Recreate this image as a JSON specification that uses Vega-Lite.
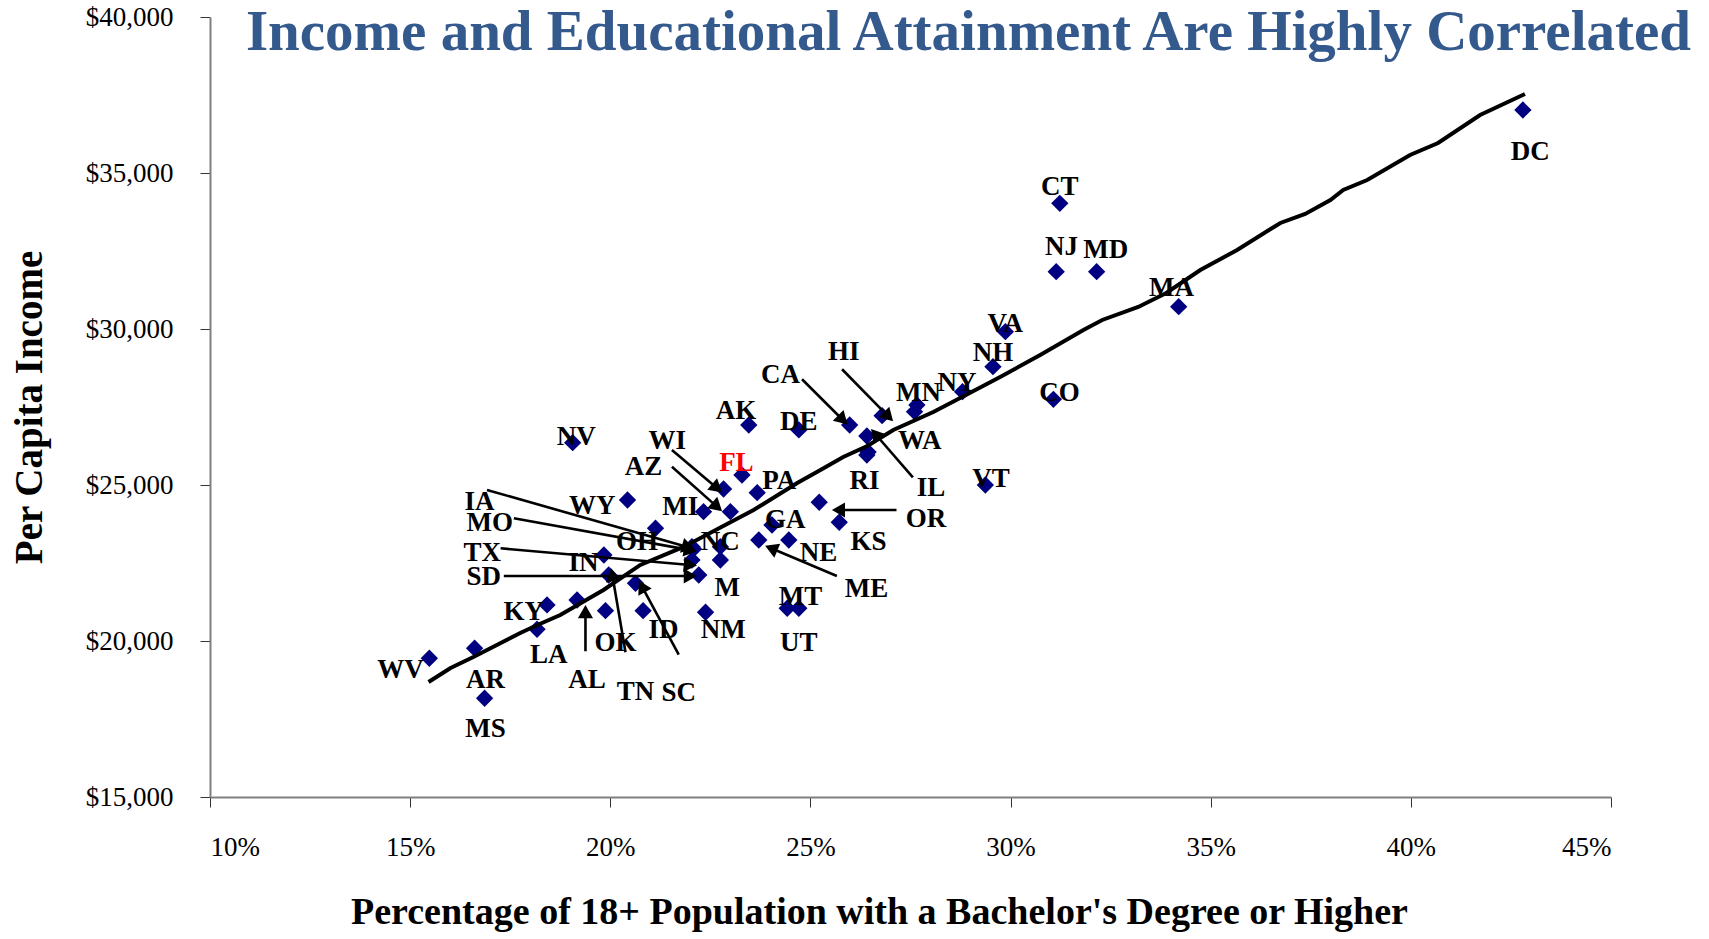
{
  "$schema": "https://vega.github.io/schema/vega-lite/v6.json",
  "autosize": {"type": "none"},
  "padding": {"left": 210, "top": 17, "right": 98, "bottom": 142},
  "width": 1401,
  "height": 780,
  "background": "white",
  "title": {
    "text": "Income and Educational Attainment Are Highly Correlated",
    "anchor": "end",
    "frame": "group",
    "orient": "top",
    "font": "Liberation Serif",
    "fontSize": 57,
    "fontWeight": "bold",
    "color": "#34598D",
    "baseline": "alphabetic",
    "offset": -104,
    "dx": 80
  },
  "config": {
    "view": {"stroke": null},
    "axis": {
      "grid": false,
      "labelFont": "Liberation Serif",
      "labelFontSize": 27,
      "labelColor": "black",
      "titleFont": "Liberation Serif",
      "titleFontWeight": "bold",
      "titleColor": "black",
      "domainColor": "#808080",
      "domainWidth": 2,
      "tickColor": "#333333",
      "tickSize": 10,
      "tickWidth": 1
    }
  },
  "datasets": {
    "states": [
      {"state": "DC", "pct": 42.80, "income": 37019, "label": "DC", "lx": 42.98, "ly": 35683},
      {"state": "CT", "pct": 31.23, "income": 34029, "label": "CT", "lx": 31.23, "ly": 34561},
      {"state": "NJ", "pct": 31.14, "income": 31837, "label": "NJ", "lx": 31.27, "ly": 32638},
      {"state": "MD", "pct": 32.15, "income": 31837, "label": "MD", "lx": 32.38, "ly": 32532},
      {"state": "MA", "pct": 34.20, "income": 30715, "label": "MA", "lx": 34.02, "ly": 31305},
      {"state": "VA", "pct": 29.87, "income": 29914, "label": "VA", "lx": 29.87, "ly": 30161},
      {"state": "NH", "pct": 29.56, "income": 28792, "label": "NH", "lx": 29.56, "ly": 29222},
      {"state": "CO", "pct": 31.07, "income": 27747, "label": "CO", "lx": 31.22, "ly": 27959},
      {"state": "NY", "pct": 28.80, "income": 27991, "label": "NY", "lx": 28.66, "ly": 28260},
      {"state": "MN", "pct": 27.66, "income": 27565, "label": "MN", "lx": 27.70, "ly": 27959},
      {"state": "unlabeled", "pct": 27.60, "income": 27350, "label": "", "lx": 27.60, "ly": 27350},
      {"state": "HI", "pct": 26.79, "income": 27222, "label": "HI", "lx": 25.83, "ly": 29254},
      {"state": "CA", "pct": 25.98, "income": 26924, "label": "CA", "lx": 24.25, "ly": 28526},
      {"state": "WA", "pct": 26.41, "income": 26571, "label": "WA", "lx": 27.73, "ly": 26420},
      {"state": "RI", "pct": 26.41, "income": 25962, "label": "RI", "lx": 26.35, "ly": 25129},
      {"state": "IL", "pct": 26.44, "income": 26058, "label": "IL", "lx": 28.01, "ly": 24895},
      {"state": "VT", "pct": 29.37, "income": 25001, "label": "VT", "lx": 29.51, "ly": 25183},
      {"state": "OR", "pct": 25.22, "income": 24446, "label": "OR", "lx": 27.89, "ly": 23911},
      {"state": "KS", "pct": 25.72, "income": 23805, "label": "KS", "lx": 26.45, "ly": 23184},
      {"state": "NV", "pct": 19.06, "income": 26356, "label": "NV", "lx": 19.15, "ly": 26549},
      {"state": "AK", "pct": 23.46, "income": 26924, "label": "AK", "lx": 23.14, "ly": 27382},
      {"state": "DE", "pct": 24.71, "income": 26764, "label": "DE", "lx": 24.71, "ly": 27030},
      {"state": "FL", "pct": 23.29, "income": 25321, "label": "FL", "lx": 23.15, "ly": 25696},
      {"state": "WI", "pct": 22.83, "income": 24872, "label": "WI", "lx": 21.42, "ly": 26420},
      {"state": "PA", "pct": 23.67, "income": 24754, "label": "PA", "lx": 24.22, "ly": 25129},
      {"state": "WY", "pct": 20.43, "income": 24520, "label": "WY", "lx": 19.55, "ly": 24328},
      {"state": "MI", "pct": 22.33, "income": 24145, "label": "MI", "lx": 21.75, "ly": 24305},
      {"state": "AZ", "pct": 23.00, "income": 24145, "label": "AZ", "lx": 20.83, "ly": 25587},
      {"state": "OH", "pct": 21.13, "income": 23613, "label": "OH", "lx": 20.67, "ly": 23184},
      {"state": "GA", "pct": 24.04, "income": 23719, "label": "GA", "lx": 24.37, "ly": 23879},
      {"state": "ME", "pct": 23.71, "income": 23238, "label": "ME", "lx": 26.40, "ly": 21667},
      {"state": "NE", "pct": 24.46, "income": 23238, "label": "NE", "lx": 25.20, "ly": 22812},
      {"state": "IA", "pct": 22.04, "income": 23023, "label": "IA", "lx": 16.73, "ly": 24456},
      {"state": "MO", "pct": 22.08, "income": 22951, "label": "MO", "lx": 16.99, "ly": 23773},
      {"state": "NC", "pct": 22.75, "income": 23023, "label": "NC", "lx": 22.75, "ly": 23184},
      {"state": "TX", "pct": 22.04, "income": 22597, "label": "TX", "lx": 16.80, "ly": 22812},
      {"state": "ND", "pct": 22.75, "income": 22597, "label": "M", "lx": 22.92, "ly": 21690},
      {"state": "SD", "pct": 22.21, "income": 22116, "label": "SD", "lx": 16.84, "ly": 22062},
      {"state": "IN", "pct": 19.84, "income": 22757, "label": "IN", "lx": 19.33, "ly": 22501},
      {"state": "TN", "pct": 19.96, "income": 22116, "label": "TN", "lx": 20.63, "ly": 18376},
      {"state": "AL", "pct": 19.17, "income": 21315, "label": "AL", "lx": 19.42, "ly": 18751},
      {"state": "OK", "pct": 19.88, "income": 20972, "label": "OK", "lx": 20.13, "ly": 19927},
      {"state": "SC", "pct": 20.63, "income": 21850, "label": "SC", "lx": 21.71, "ly": 18325},
      {"state": "ID", "pct": 20.82, "income": 20972, "label": "ID", "lx": 21.33, "ly": 20354},
      {"state": "KY", "pct": 18.42, "income": 21155, "label": "KY", "lx": 17.84, "ly": 20940},
      {"state": "LA", "pct": 18.17, "income": 20376, "label": "LA", "lx": 18.46, "ly": 19552},
      {"state": "AR", "pct": 16.61, "income": 19767, "label": "AR", "lx": 16.88, "ly": 18751},
      {"state": "WV", "pct": 15.48, "income": 19446, "label": "WV", "lx": 14.76, "ly": 19072},
      {"state": "MS", "pct": 16.86, "income": 18164, "label": "MS", "lx": 16.88, "ly": 17171},
      {"state": "NM", "pct": 22.38, "income": 20921, "label": "NM", "lx": 22.82, "ly": 20354},
      {"state": "MT", "pct": 24.42, "income": 21049, "label": "MT", "lx": 24.75, "ly": 21420},
      {"state": "UT", "pct": 24.71, "income": 21049, "label": "UT", "lx": 24.71, "ly": 19927}
    ],
    "trend": [
      {"pct": 15.46, "income": 18687},
      {"pct": 16.01, "income": 19136},
      {"pct": 16.58, "income": 19488},
      {"pct": 17.75, "income": 20257},
      {"pct": 18.18, "income": 20514},
      {"pct": 18.75, "income": 20834},
      {"pct": 19.83, "income": 21635},
      {"pct": 20.75, "income": 22437},
      {"pct": 21.83, "income": 23014},
      {"pct": 23.58, "income": 24199},
      {"pct": 24.67, "income": 25065},
      {"pct": 25.25, "income": 25481},
      {"pct": 25.82, "income": 25898},
      {"pct": 26.42, "income": 26250},
      {"pct": 27.07, "income": 26763},
      {"pct": 28.07, "income": 27340},
      {"pct": 28.74, "income": 27789},
      {"pct": 29.74, "income": 28462},
      {"pct": 30.74, "income": 29167},
      {"pct": 31.82, "income": 29968},
      {"pct": 32.29, "income": 30289},
      {"pct": 33.19, "income": 30706},
      {"pct": 33.89, "income": 31154},
      {"pct": 34.74, "income": 31891},
      {"pct": 35.66, "income": 32532},
      {"pct": 36.74, "income": 33398},
      {"pct": 37.36, "income": 33686},
      {"pct": 37.99, "income": 34135},
      {"pct": 38.31, "income": 34455},
      {"pct": 38.91, "income": 34776},
      {"pct": 39.98, "income": 35577},
      {"pct": 40.68, "income": 35962},
      {"pct": 41.73, "income": 36859},
      {"pct": 42.85, "income": 37532}
    ],
    "arrows": [
      {"state": "CA", "x1": 24.79, "y1": 28388, "x2": 25.81, "y2": 27084},
      {"state": "HI", "x1": 25.79, "y1": 28709, "x2": 26.95, "y2": 27190},
      {"state": "IL", "x1": 27.56, "y1": 25247, "x2": 26.62, "y2": 26635},
      {"state": "OR", "x1": 27.15, "y1": 24199, "x2": 25.70, "y2": 24199},
      {"state": "ME", "x1": 25.66, "y1": 22084, "x2": 24.02, "y2": 22971},
      {"state": "WI", "x1": 21.54, "y1": 26123, "x2": 22.67, "y2": 24895},
      {"state": "AZ", "x1": 21.54, "y1": 25587, "x2": 22.67, "y2": 24299},
      {"state": "IA", "x1": 16.92, "y1": 24840, "x2": 21.95, "y2": 23008},
      {"state": "MO", "x1": 17.59, "y1": 23933, "x2": 22.00, "y2": 22912},
      {"state": "TX", "x1": 17.26, "y1": 22971, "x2": 22.00, "y2": 22437},
      {"state": "SD", "x1": 17.34, "y1": 22084, "x2": 22.00, "y2": 22084},
      {"state": "AL", "x1": 19.38, "y1": 19671, "x2": 19.38, "y2": 20940},
      {"state": "TN", "x1": 20.38, "y1": 19638, "x2": 20.05, "y2": 22126},
      {"state": "SC", "x1": 21.71, "y1": 19562, "x2": 20.79, "y2": 21754}
    ]
  },
  "layer": [
    {
      "data": {"name": "states"},
      "mark": {"type": "point", "shape": "diamond", "filled": true, "color": "#000080", "opacity": 1, "size": 300},
      "encoding": {
        "x": {
          "field": "pct", "type": "quantitative",
          "scale": {"domain": [10, 45], "nice": false, "zero": false},
          "title": "Percentage of 18+ Population with a Bachelor's Degree or Higher",
          "axis": {
            "values": [10, 15, 20, 25, 30, 35, 40, 45],
            "labelExpr": "datum.value + '%'",
            "labelPadding": 27,
            "titleFontSize": 38,
            "titlePadding": 33,
            "titleX": 669
          }
        },
        "y": {
          "field": "income", "type": "quantitative",
          "scale": {"domain": [15000, 40000], "nice": false, "zero": false},
          "title": "Per Capita Income",
          "axis": {
            "values": [15000, 20000, 25000, 30000, 35000, 40000],
            "format": "$,.0f",
            "labelPadding": 27,
            "titleFontSize": 39,
            "titlePadding": 36
          }
        }
      }
    },
    {
      "data": {"name": "trend"},
      "mark": {"type": "line", "color": "black", "strokeWidth": 4},
      "encoding": {
        "x": {"field": "pct", "type": "quantitative", "title": "Percentage of 18+ Population with a Bachelor's Degree or Higher"},
        "y": {"field": "income", "type": "quantitative", "title": "Per Capita Income"}
      }
    },
    {
      "data": {"name": "arrows"},
      "mark": {"type": "rule", "color": "black", "strokeWidth": 2.6},
      "encoding": {
        "x": {"field": "x1", "type": "quantitative", "title": "Percentage of 18+ Population with a Bachelor's Degree or Higher"},
        "y": {"field": "y1", "type": "quantitative", "title": "Per Capita Income"},
        "x2": {"field": "x2"},
        "y2": {"field": "y2"}
      }
    },
    {
      "data": {"name": "arrows"},
      "transform": [
        {"calculate": "atan2((datum.x2 - datum.x1) * 40.04, (datum.y2 - datum.y1) / 32.05) * 180 / PI", "as": "angle"}
      ],
      "mark": {"type": "point", "shape": "triangle-up", "filled": true, "color": "black", "opacity": 1, "size": 230},
      "encoding": {
        "x": {"field": "x2", "type": "quantitative", "title": "Percentage of 18+ Population with a Bachelor's Degree or Higher"},
        "y": {"field": "y2", "type": "quantitative", "title": "Per Capita Income"},
        "angle": {"field": "angle", "type": "quantitative", "scale": null}
      }
    },
    {
      "data": {"name": "states"},
      "mark": {"type": "text", "font": "Liberation Serif", "fontWeight": "bold", "fontSize": 27, "baseline": "middle", "align": "center"},
      "encoding": {
        "x": {"field": "lx", "type": "quantitative", "title": "Percentage of 18+ Population with a Bachelor's Degree or Higher"},
        "y": {"field": "ly", "type": "quantitative", "title": "Per Capita Income"},
        "text": {"field": "label"},
        "color": {"condition": {"test": "datum.state === 'FL'", "value": "#FF0000"}, "value": "black"}
      }
    }
  ]
}
